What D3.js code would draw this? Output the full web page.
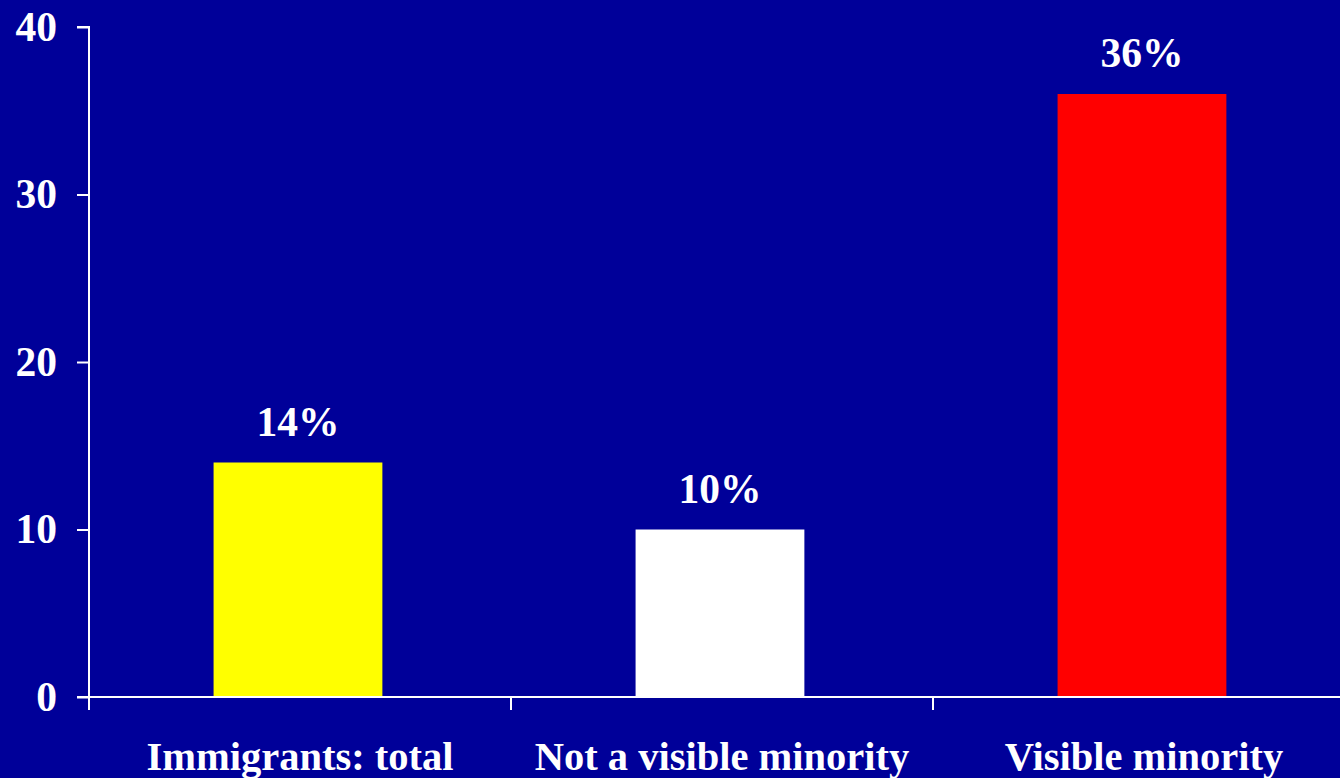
<!DOCTYPE html>
<html><head><meta charset="utf-8">
<script src="https://cdn.jsdelivr.net/npm/d3@7"></script>
<style>html,body{margin:0;padding:0;background:#000099;overflow:hidden}</style>
</head><body>
<svg id="c" width="1340" height="778"></svg>
<script>
const categories = ["Immigrants: total", "Not a visible minority", "Visible minority"];
const values = [14, 10, 36];
const valueLabels = ["14%", "10%", "36%"];
const barColors = ["#ffff00", "#ffffff", "#ff0000"];
const yTicks = [0, 10, 20, 30, 40];

(function(){
const svg = d3.select("#c");
svg.append("rect").attr("width",1340).attr("height",778).attr("fill","#000099");
const mLeft = 89, mTop = 27, mBottom = 697, mRight = 1355;
const x = d3.scaleBand().domain(categories).range([mLeft, mRight]).paddingInner(0.6).paddingOuter(0.3).align(0.492);
const y = d3.scaleLinear().domain([0, 40]).range([mBottom, mTop]);
const font = "'Liberation Serif','Times New Roman',serif";
const fs = 41.5;

svg.selectAll("rect.bar").data(values).join("rect").attr("class","bar")
  .attr("x",(d,i)=>x(categories[i])).attr("width",x.bandwidth())
  .attr("y",d=>y(d)).attr("height",d=>mBottom-y(d)).attr("fill",(d,i)=>barColors[i]);

const ya = svg.append("g").attr("transform",`translate(${mLeft},0)`)
  .call(d3.axisLeft(y).tickValues(yTicks).tickSize(12).tickPadding(20).tickFormat(d3.format("d")));
const bx = d3.scaleBand().domain(categories).range([mLeft,mRight]);
svg.append("g").selectAll("line").data(categories).join("line")
  .attr("x1",d=>bx(d)).attr("x2",d=>bx(d)).attr("y1",mBottom).attr("y2",mBottom+13)
  .attr("stroke","#fff").attr("stroke-width",2);
svg.append("line").attr("x1",mLeft-12).attr("x2",mRight).attr("y1",mBottom).attr("y2",mBottom)
  .attr("stroke","#fff").attr("stroke-width",2);

ya.selectAll(".domain").attr("stroke","#fff").attr("stroke-width",2).attr("d",`M-12,${mTop}H0V${mBottom}`);
ya.selectAll(".tick line").attr("stroke","#fff").attr("stroke-width",2);
ya.selectAll(".tick text").attr("fill","#fff").attr("font-family",font).attr("font-weight","bold").attr("font-size",fs);

svg.append("g").selectAll("text").data(categories).join("text")
  .attr("x",d=>bx(d)+bx.bandwidth()/2).attr("y",770).attr("text-anchor","middle")
  .attr("fill","#fff").attr("font-family",font).attr("font-weight","bold").attr("font-size",40.5)
  .text(d=>d);

svg.append("g").selectAll("text").data(values).join("text")
  .attr("x",(d,i)=>x(categories[i])+x.bandwidth()/2).attr("y",d=>y(d)-27).attr("text-anchor","middle")
  .attr("fill","#fff").attr("font-family",font).attr("font-weight","bold").attr("font-size",fs)
  .text((d,i)=>valueLabels[i]);
})();
</script>
</body></html>
